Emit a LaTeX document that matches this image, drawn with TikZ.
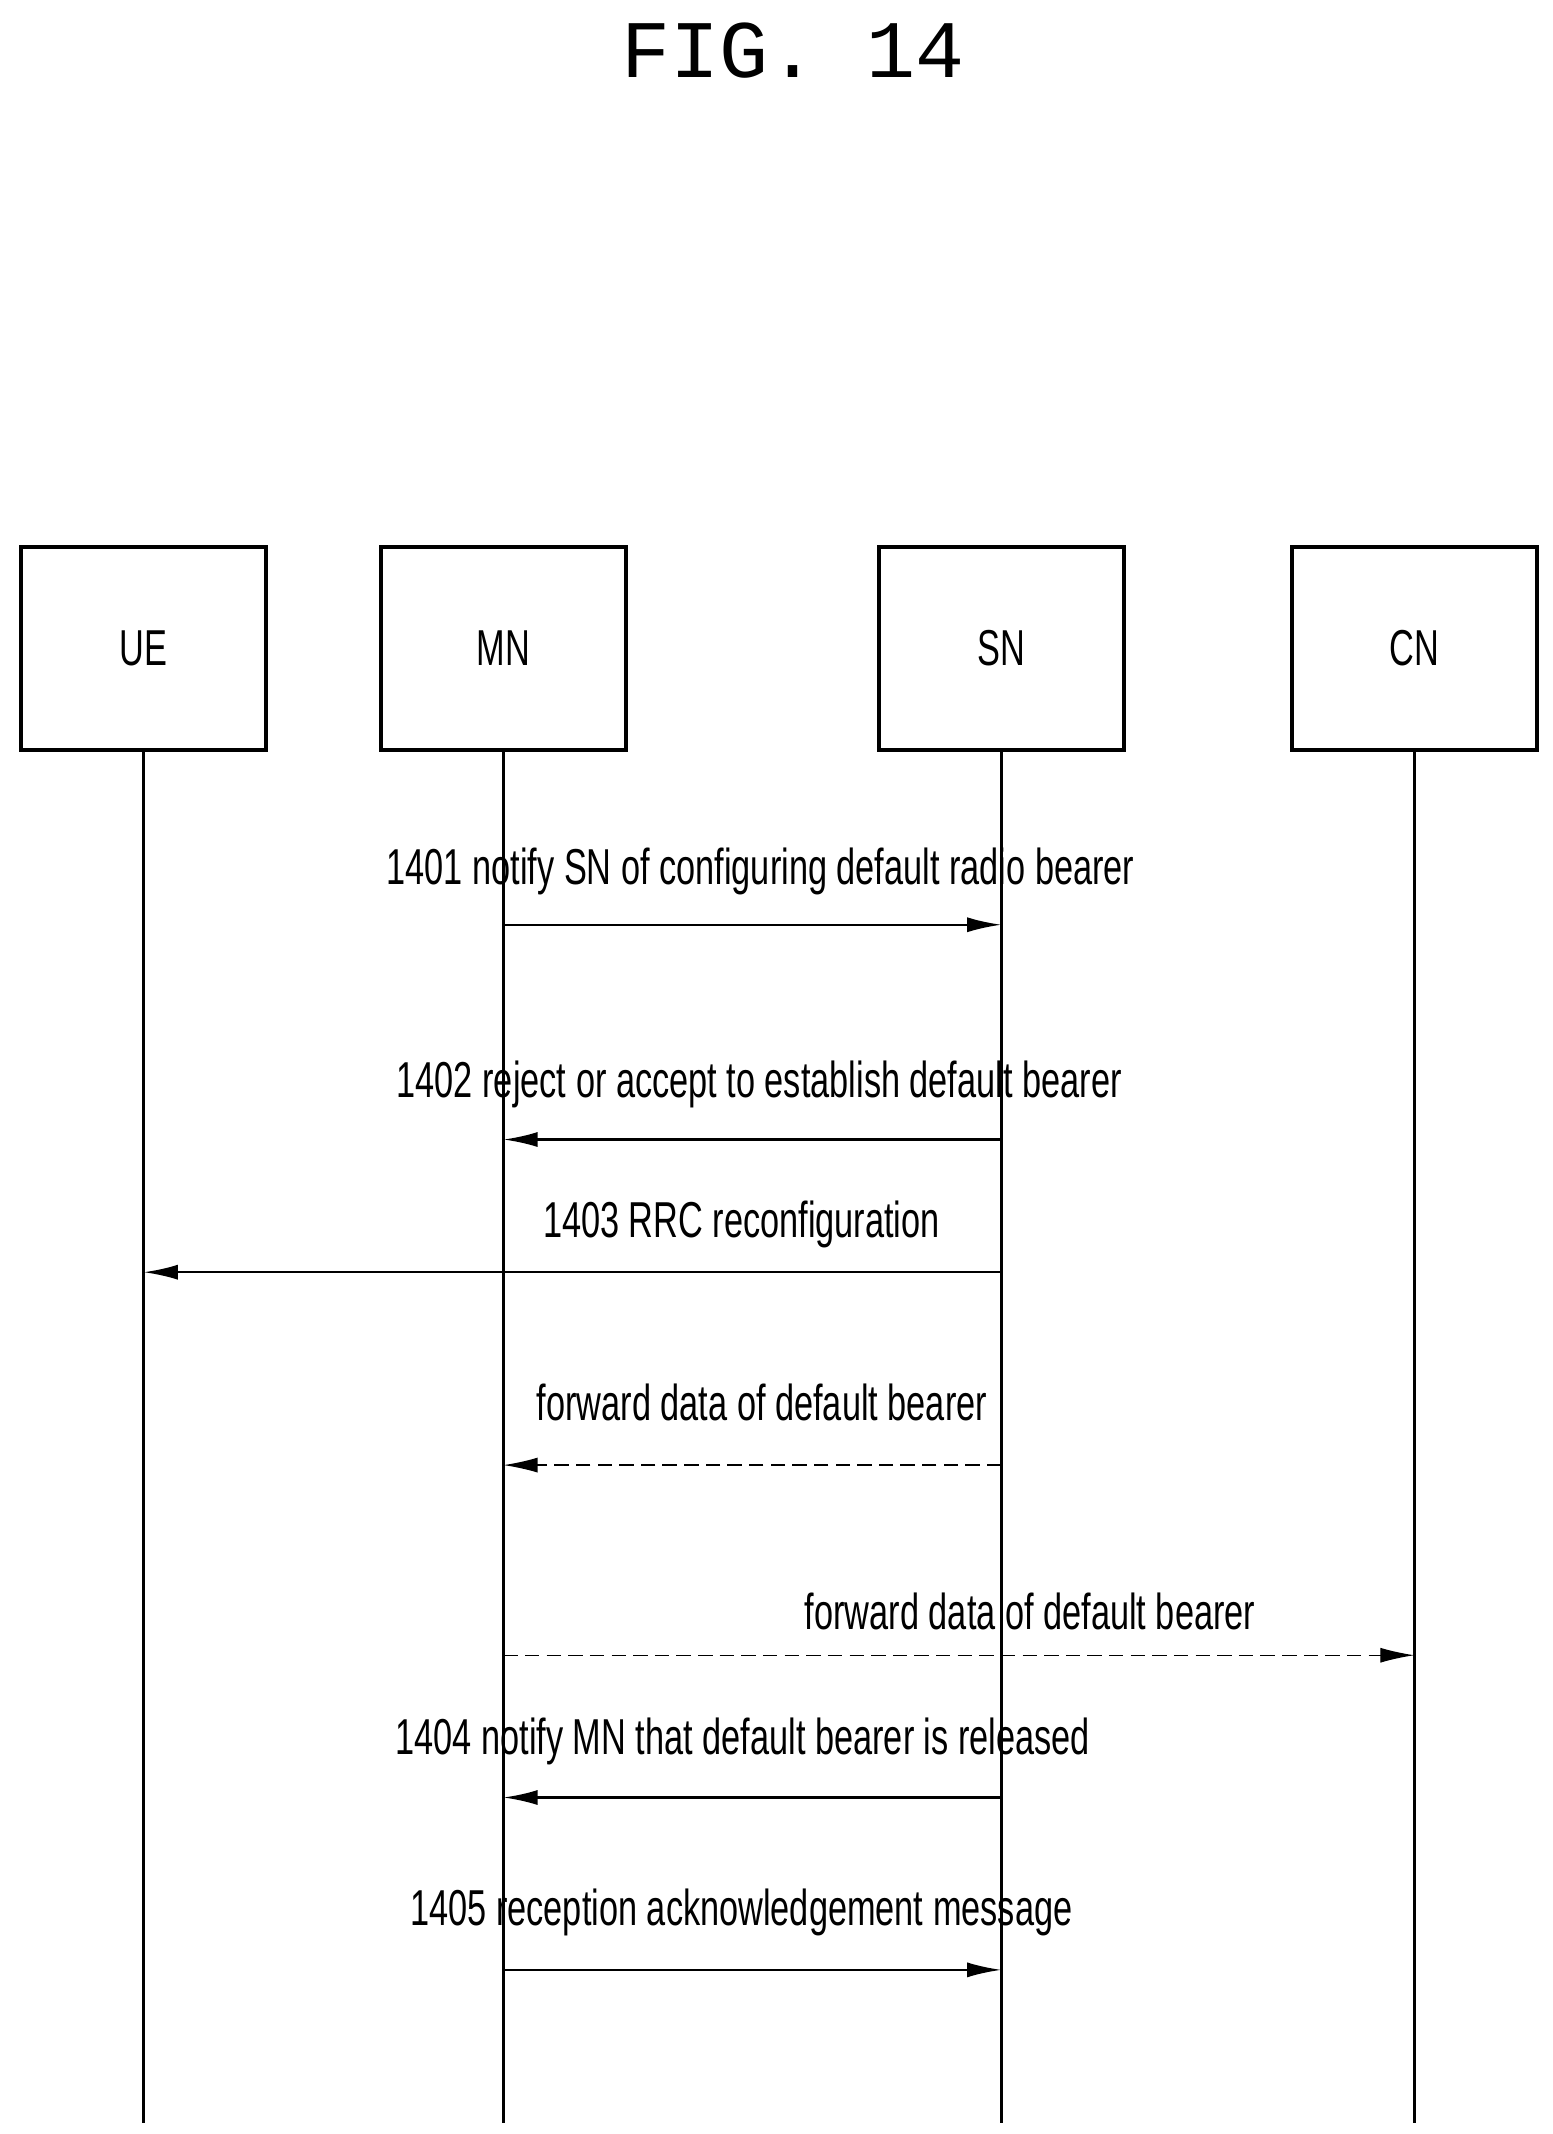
\documentclass[tikz,border=0pt]{standalone}
\usepackage{fontspec}
\usetikzlibrary{arrows.meta}
\newfontfamily\cond[FakeStretch=0.68]{Liberation Sans}
\newfontfamily\ttl{Liberation Mono}
\begin{document}
\begin{tikzpicture}[x=0.02cm,y=-0.02cm,
  box/.style={draw,line width=1.6pt,minimum width=179*0.02cm,minimum height=148*0.02cm,inner sep=0pt,font=\cond\fontsize{21}{24}\selectfont},
  lbl/.style={font=\cond\fontsize{21}{24}\selectfont,inner sep=0pt},
  life/.style={line width=1pt},
  msg/.style={line width=1pt,-{Latex[length=0.5cm,width=0.22cm]}},
  dmsg/.style={msg,dash pattern=on 6pt off 3pt,line width=0.6pt}]
\useasboundingbox (0,0) rectangle (1135,1560);
\node[font=\ttl\fontsize{34}{40}\selectfont] (t) at (580,37) {FIG. 14};
\node[box] (UE) at (105,474) {UE};
\node[box] (MN) at (368,474) {MN};
\node[box] (SN) at (732,474) {SN};
\node[box] (CN) at (1034,474) {CN};
\coordinate (UEe) at (105,1552);
\coordinate (MNe) at (368,1552);
\coordinate (SNe) at (732,1552);
\coordinate (CNe) at (1034,1552);
\draw[life] (UE.south) -- (UEe);
\draw[life] (MN.south) -- (MNe);
\draw[life] (SN.south) -- (SNe);
\draw[life] (CN.south) -- (CNe);
\foreach \n/\y in {a/676,b/833,c/930,d/1071,e/1210,f/1314,g/1440}{
  \coordinate (ue\n) at (105,\y); \coordinate (mn\n) at (368,\y);
  \coordinate (sn\n) at (732,\y); \coordinate (cn\n) at (1034,\y);}
\node[lbl] (l1) at (556,637) {1401 notify SN of configuring default radio bearer};
\draw[msg] (mna) -- (sna);
\node[lbl] (l2) at (555,793) {1402 reject or accept to establish default bearer};
\draw[msg] (snb) -- (mnb);
\node[lbl] (l3) at (542,895) {1403 RRC reconfiguration};
\draw[msg] (snc) -- (uec);
\node[lbl] (l4) at (557,1025) {forward data of default bearer};
\draw[dmsg] (snd) -- (mnd);
\node[lbl] (l5) at (753,1178) {forward data of default bearer};
\draw[dmsg] (mne) -- (cne);
\node[lbl] (l6) at (543,1273) {1404 notify MN that default bearer is released};
\draw[msg] (snf) -- (mnf);
\node[lbl] (l7) at (542,1398) {1405 reception acknowledgement message};
\draw[msg] (mng) -- (sng);
\end{tikzpicture}
\end{document}
